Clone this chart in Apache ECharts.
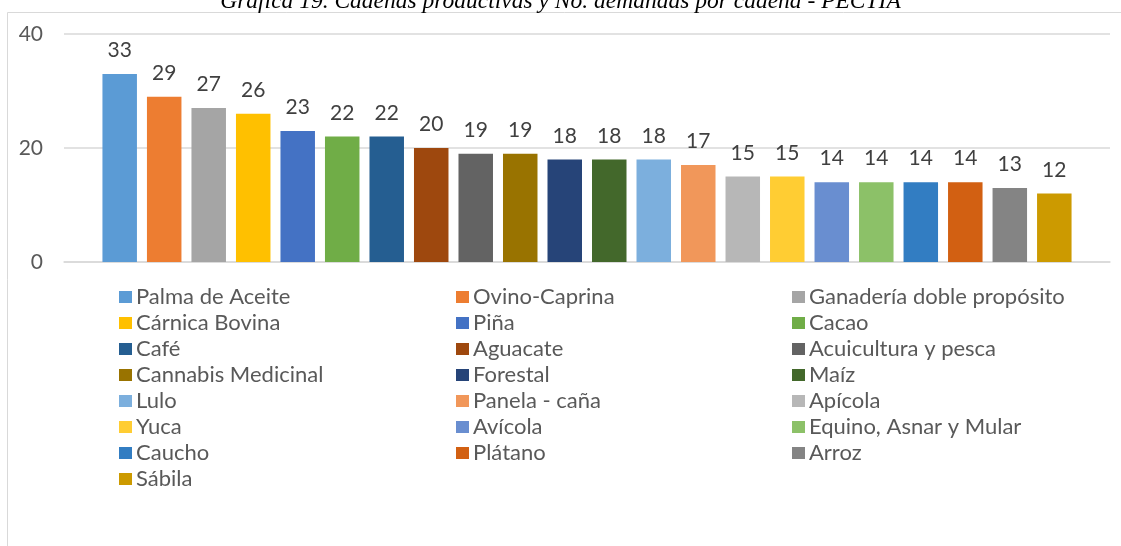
<!DOCTYPE html>
<html>
<head>
<meta charset="UTF-8">
<title>Cadenas productivas</title>
<script src="https://cdn.jsdelivr.net/npm/echarts@6/dist/echarts.min.js"></script>
<style>
  html, body { margin: 0; padding: 0; background: #fff; }
  #main { width: 1121px; height: 546px; }
</style>
</head>
<body>
<div id="main"></div>
<script>
// datos
const cadenas = ['Palma de Aceite', 'Ovino-Caprina', 'Ganadería doble propósito', 'Cárnica Bovina', 'Piña', 'Cacao',
  'Café', 'Aguacate', 'Acuicultura y pesca', 'Cannabis Medicinal', 'Forestal', 'Maíz',
  'Lulo', 'Panela - caña', 'Apícola', 'Yuca', 'Avícola', 'Equino, Asnar y Mular',
  'Caucho', 'Plátano', 'Arroz', 'Sábila']
const demandas = [33, 29, 27, 26, 23, 22, 22, 20, 19, 19, 18, 18, 18, 17, 15, 15, 14, 14, 14, 14, 13, 12]
const yTicks = [0, 20, 40]
const tituloTexto = 'Gráfica 19. Cadenas productivas y No. demandas por cadena - PECTIA'

// paleta de office
const paleta = ['#5B9BD5', '#ED7D31', '#A5A5A5', '#FFC000', '#4472C4', '#70AD47',
  '#255E91', '#9E480E', '#636363', '#997300', '#264478', '#43682B',
  '#7CAFDD', '#F1975A', '#B7B7B7', '#FFCD33', '#698ED0', '#8CC168',
  '#327DC2', '#D26012', '#848484', '#CC9A00']

const fuente = 'Lato'
let chart = echarts.init(document.getElementById('main'))

let series = []
for (let i = 0; i < cadenas.length; i++) {
  series.push({
    name: cadenas[i],
    type: 'bar',
    data: [demandas[i]],
    barWidth: 34.5,
    barGap: '29%',
    itemStyle: { color: paleta[i] },
    label: {
      show: true,
      position: 'top',
      distance: 13,
      color: '#404040',
      fontFamily: fuente,
      fontSize: 21
    }
  })
}

// tres columnas de leyenda
let colX = [114, 451, 787]
let legends = []
for (let c = 0; c < 3; c++) {
  let nombres = []
  for (let i = c; i < cadenas.length; i += 3) nombres.push(cadenas[i])
  legends.push({
    orient: 'vertical',
    left: colX[c],
    top: 281,
    data: nombres,
    icon: 'rect',
    itemWidth: 13,
    itemHeight: 12,
    itemGap: 4,
    selectedMode: false,
    textStyle: { color: '#595959', fontFamily: fuente, fontSize: 22, padding: [0, 0, 0, -1] }
  })
}

let option = {
  animation: false,
  backgroundColor: '#fff',
  title: {
    text: tituloTexto,
    left: 'center',
    top: -15,
    textStyle: { fontFamily: 'Liberation Serif', fontStyle: 'italic', fontWeight: 'normal', fontSize: 23.5, color: '#000' }
  },
  graphic: [{
    type: 'rect',
    shape: { x: 7.5, y: 12.5, width: 1200, height: 600 },
    style: { fill: 'none', stroke: '#D9D9D9', lineWidth: 1 },
    silent: true,
    z: -1
  }],
  legend: legends,
  grid: { left: 64, right: 11, top: 34, bottom: 284 },
  xAxis: {
    type: 'category',
    data: [''],
    axisLine: { lineStyle: { color: '#D9D9D9', width: 1.5 } },
    axisTick: { show: false },
    axisLabel: { show: false }
  },
  yAxis: {
    type: 'value',
    min: yTicks[0],
    max: yTicks[yTicks.length - 1],
    interval: yTicks[1] - yTicks[0],
    axisLine: { show: false },
    axisTick: { show: false },
    axisLabel: { color: '#595959', fontFamily: fuente, fontSize: 21, margin: 21 },
    splitLine: { lineStyle: { color: '#D9D9D9', width: 1.5 } }
  },
  series: series
}
chart.setOption(option)
</script>
</body>
</html>
